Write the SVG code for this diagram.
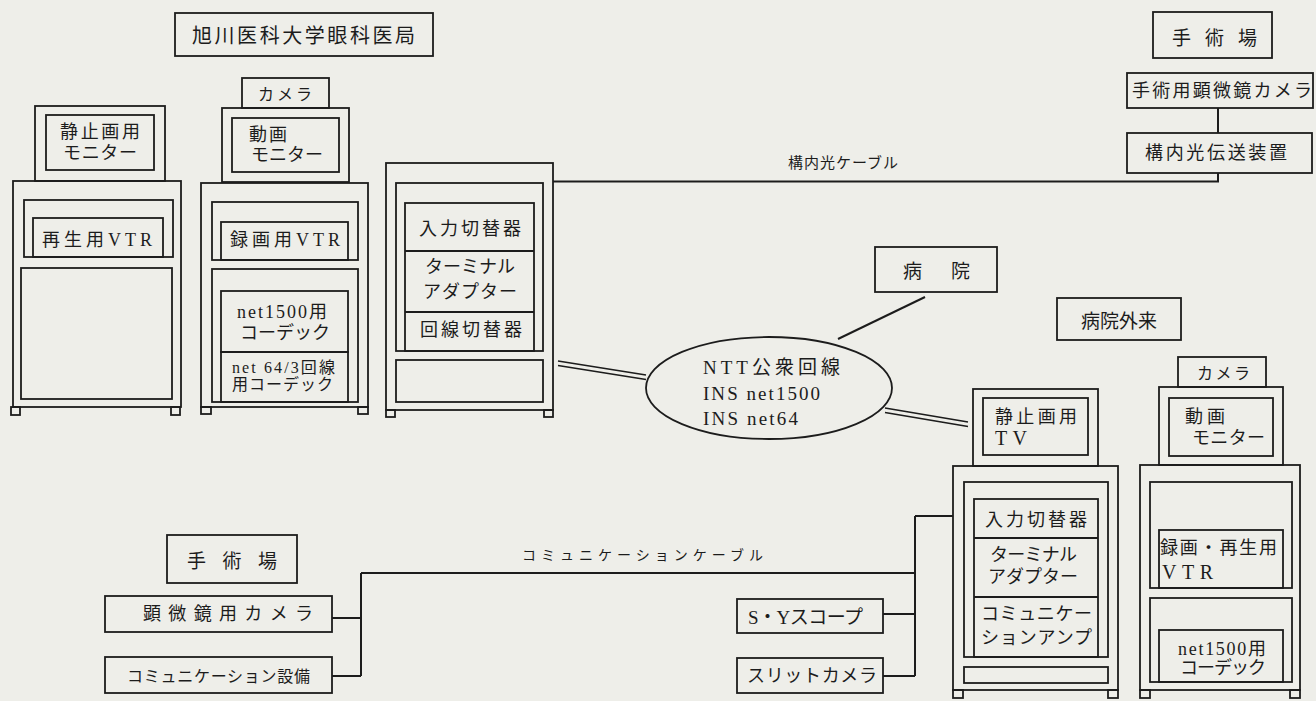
<svg xmlns="http://www.w3.org/2000/svg" width="1316" height="701" viewBox="0 0 1316 701">
<style>
rect.bg{fill:#eeeee9;stroke:none}
rect,ellipse{fill:none;stroke:#1c1c1c;stroke-width:1.8}
.ln{fill:none;stroke:#1c1c1c;stroke-width:2}
text{fill:#1c1c1c;dominant-baseline:central;font-family:"Liberation Serif","Noto Sans CJK JP",serif;font-size:18px}
.g{font-family:"Noto Sans CJK JP",sans-serif}
.s16{font-size:16px}
.s15{font-size:15px}
.s14{font-size:14px}
.s19{font-size:19px}
.s20{font-size:20px}
</style>
<rect class="bg" x="0" y="0" width="1316" height="701"/>

<g id="title">
<rect x="175" y="13" width="258" height="43"/>
<text class="g s20" x="192" y="34" textLength="223" lengthAdjust="spacing">旭川医科大学眼科医局</text>
</g>

<g id="cabinet-a">
<rect x="35" y="106" width="130" height="75"/>
<rect x="46" y="115" width="108" height="55"/>
<text x="60" y="132" textLength="80" lengthAdjust="spacing">静止画用</text>
<text x="63" y="153" textLength="74" lengthAdjust="spacing">モニター</text>
<rect x="13" y="181" width="168" height="226"/>
<rect x="24" y="200" width="149" height="57"/>
<rect x="33" y="218" width="130" height="39"/>
<text x="42" y="240" textLength="110" lengthAdjust="spacing">再生用VTR</text>
<rect x="21" y="268" width="151" height="131"/>
<rect x="11" y="407" width="9" height="8"/>
<rect x="171" y="407" width="9" height="8"/>
</g>

<g id="cabinet-b">
<rect x="242" y="78" width="87" height="30"/>
<text class="s16" x="258" y="94" textLength="54" lengthAdjust="spacing">カメラ</text>
<rect x="222" y="108" width="127" height="74"/>
<rect x="232" y="118" width="107" height="54"/>
<text x="249" y="135" textLength="38" lengthAdjust="spacing">動画</text>
<text x="251" y="155" textLength="72" lengthAdjust="spacing">モニター</text>
<rect x="201" y="183" width="167" height="224"/>
<rect x="212" y="202" width="146" height="58"/>
<rect x="221" y="222" width="127" height="38"/>
<text x="230" y="240" textLength="110" lengthAdjust="spacing">録画用VTR</text>
<rect x="212" y="269" width="146" height="133"/>
<rect x="221" y="291" width="127" height="61"/>
<text x="237" y="312" textLength="90" lengthAdjust="spacing">net1500用</text>
<text x="240" y="333" textLength="90" lengthAdjust="spacing">コーデック</text>
<rect x="221" y="352" width="127" height="50"/>
<text class="s16" x="232" y="367" textLength="103" lengthAdjust="spacing">net 64/3回線</text>
<text class="s16" x="232" y="384" textLength="101" lengthAdjust="spacing">用コーデック</text>
<rect x="201" y="407" width="10" height="7"/>
<rect x="358" y="407" width="10" height="7"/>
</g>

<g id="cabinet-c">
<rect x="386" y="163" width="167" height="247"/>
<rect x="396" y="183" width="147" height="168"/>
<rect x="405" y="203" width="129" height="148"/>
<path class="ln" d="M405,251H534M405,312H534" style="stroke-width:1.8"/>
<text x="419" y="229" textLength="102" lengthAdjust="spacing">入力切替器</text>
<text x="425" y="267" textLength="90" lengthAdjust="spacing">ターミナル</text>
<text x="423" y="292" textLength="94" lengthAdjust="spacing">アダプター</text>
<text x="420" y="330" textLength="102" lengthAdjust="spacing">回線切替器</text>
<rect x="396" y="360" width="147" height="42"/>
<rect x="386" y="410" width="9" height="7"/>
<rect x="544" y="410" width="9" height="7"/>
</g>

<g id="or-top">
<rect x="1153" y="12" width="119" height="46"/>
<text class="g s19" x="1172" y="36" textLength="85" lengthAdjust="spacing">手 術 場</text>
</g>
<g id="or-camera">
<rect x="1127" y="73" width="186" height="35"/>
<text x="1132" y="91" textLength="180" lengthAdjust="spacing">手術用顕微鏡カメラ</text>
</g>
<g id="optical-tx">
<rect x="1127" y="133" width="185" height="40"/>
<text x="1145" y="153" textLength="142" lengthAdjust="spacing">構内光伝送装置</text>
</g>

<g id="hospital">
<rect x="875" y="247" width="122" height="45"/>
<text class="g s19" x="903" y="269" textLength="67" lengthAdjust="spacing">病 院</text>
</g>

<g id="ntt">
<ellipse cx="769" cy="388" rx="123" ry="51"/>
<text class="s19" x="703" y="367" textLength="137" lengthAdjust="spacing">NTT公衆回線</text>
<text class="s19" x="703" y="393" textLength="117" lengthAdjust="spacing">INS net1500</text>
<text class="s19" x="703" y="418" textLength="95" lengthAdjust="spacing">INS net64</text>
</g>

<g id="outpatient">
<rect x="1057" y="298" width="124" height="42"/>
<text class="g s19" x="1081" y="319" textLength="76" lengthAdjust="spacing">病院外来</text>
</g>

<g id="cabinet-d">
<rect x="973" y="389" width="125" height="77"/>
<rect x="983" y="398" width="105" height="57"/>
<text x="995" y="417" textLength="82" lengthAdjust="spacing">静止画用</text>
<text class="s20" x="995" y="438" textLength="32" lengthAdjust="spacing">TV</text>
<rect x="953" y="466" width="165" height="224"/>
<rect x="964" y="482" width="144" height="175"/>
<rect x="974" y="499" width="124" height="158"/>
<path class="ln" d="M974,538H1098M974,597H1098" style="stroke-width:1.8"/>
<text x="985" y="520" textLength="102" lengthAdjust="spacing">入力切替器</text>
<text x="990" y="555" textLength="87" lengthAdjust="spacing">ターミナル</text>
<text x="988" y="577" textLength="90" lengthAdjust="spacing">アダプター</text>
<text x="981" y="614" textLength="111" lengthAdjust="spacing">コミュニケー</text>
<text x="981" y="638" textLength="111" lengthAdjust="spacing">ションアンプ</text>
<rect x="964" y="667" width="144" height="16"/>
<rect x="953" y="690" width="10" height="8"/>
<rect x="1108" y="690" width="10" height="8"/>
</g>

<g id="cabinet-e">
<rect x="1178" y="357" width="88" height="30"/>
<text class="s16" x="1197" y="373" textLength="53" lengthAdjust="spacing">カメラ</text>
<rect x="1159" y="387" width="124" height="78"/>
<rect x="1169" y="398" width="104" height="58"/>
<text x="1185" y="417" textLength="40" lengthAdjust="spacing">動画</text>
<text x="1192" y="438" textLength="73" lengthAdjust="spacing">モニター</text>
<rect x="1140" y="465" width="160" height="225"/>
<rect x="1150" y="482" width="142" height="106"/>
<rect x="1159" y="530" width="124" height="58"/>
<text x="1160" y="548" textLength="117" lengthAdjust="spacing">録画・再生用</text>
<text class="s20" x="1162" y="572" textLength="51" lengthAdjust="spacing">VTR</text>
<rect x="1150" y="598" width="142" height="84"/>
<rect x="1159" y="630" width="124" height="52"/>
<text x="1178" y="649" textLength="88" lengthAdjust="spacing">net1500用</text>
<text x="1180" y="668" textLength="86" lengthAdjust="spacing">コーデック</text>
<rect x="1140" y="690" width="10" height="8"/>
<rect x="1290" y="690" width="10" height="8"/>
</g>

<g id="or-bottom">
<rect x="167" y="535" width="130" height="48"/>
<text class="g s19" x="187" y="559" textLength="90" lengthAdjust="spacing">手 術 場</text>
</g>
<g id="micro-camera">
<rect x="105" y="596" width="227" height="36"/>
<text x="143" y="614" textLength="170" lengthAdjust="spacing">顕微鏡用カメラ</text>
</g>
<g id="comm-equip">
<rect x="105" y="657" width="227" height="36"/>
<text class="s16" x="127" y="676" textLength="183" lengthAdjust="spacing">コミュニケーション設備</text>
</g>
<g id="sy-scope">
<rect x="737" y="599" width="146" height="34"/>
<text class="s19" x="748" y="617" textLength="115" lengthAdjust="spacing">S・Yスコープ</text>
</g>
<g id="slit-camera">
<rect x="737" y="658" width="146" height="35"/>
<text x="747" y="676" textLength="130" lengthAdjust="spacing">スリットカメラ</text>
</g>

<g id="connectors">
<path class="ln" d="M553,181.5H1218V173M1218,108V133"/>
<text class="s15" x="788" y="163" textLength="110" lengthAdjust="spacing">構内光ケーブル</text>
<path class="ln" d="M558,361L646,375M558,365.5L646,379.5" style="stroke-width:1.6"/>
<path class="ln" d="M885,408L968,422M885,412.5L968,426.5" style="stroke-width:1.6"/>
<path class="ln" d="M925,297L838,339"/>
<path class="ln" d="M332,618H361M332,676H361M361,573V676M361,573H915M883,614H915M883,676H915M915,516V676M915,516H953"/>
<text class="s14" x="522" y="555" textLength="241" lengthAdjust="spacing">コミュニケーションケーブル</text>
</g>
</svg>
